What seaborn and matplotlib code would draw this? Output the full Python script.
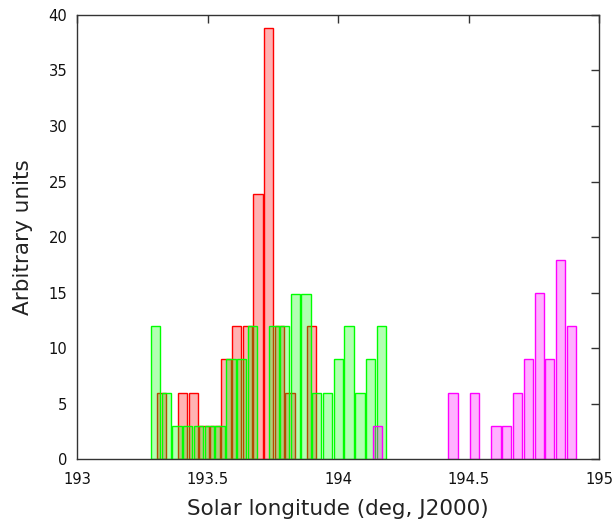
import numpy as np
import pandas as pd
import matplotlib
matplotlib.use("Agg")
import matplotlib.pyplot as plt
import seaborn as sns

# values
red_lon = [193.323, 193.405, 193.446, 193.487, 193.528, 193.570, 193.611,
           193.652, 193.693, 193.734, 193.775, 193.816, 193.898]
red_val = [6, 6, 6, 3, 3, 9, 12, 12, 23.9, 38.8, 12, 6, 12]

green_lon = [193.301, 193.342, 193.383, 193.424, 193.466, 193.507, 193.548,
             193.589, 193.630, 193.671, 193.754, 193.795, 193.836, 193.877,
             193.918, 193.960, 194.001, 194.042, 194.083, 194.124, 194.165]
green_val = [12, 6, 3, 3, 3, 3, 3, 9, 9, 12, 12, 12, 14.9, 14.9,
             6, 6, 9, 12, 6, 9, 12]

magenta_lon = [194.151, 194.440, 194.522, 194.605, 194.645, 194.687,
               194.729, 194.770, 194.810, 194.851, 194.894]
magenta_val = [3, 6, 6, 3, 3, 6, 9, 15, 9, 17.9, 12]

series = [
    (red_lon, red_val, (1, 0, 0)),
    (green_lon, green_val, (0, 1, 0)),
    (magenta_lon, magenta_val, (1, 0, 1)),
]
bar_width = 0.036  # deg

sns.set_style("white")
plt.rcParams['font.family'] = ['DejaVu Sans']

fig = plt.figure(figsize=(6.16, 5.24), dpi=100)
ax = fig.add_axes([0.125, 0.1235, 0.848, 0.848])

for lon, val, col in series:
    df = pd.DataFrame({"lon": lon, "val": val})
    spacing = np.diff(np.sort(df["lon"].values)).min()
    sns.barplot(data=df, x="lon", y="val", native_scale=True,
                width=bar_width / spacing, errorbar=None, ax=ax)
    for p in ax.containers[-1]:
        p.set_facecolor((*col, 0.3))
        p.set_edgecolor(col)
        p.set_linewidth(1.0)

ax.set_xlim(193, 195)
ax.set_ylim(0, 40)
ax.set_xticks([193, 193.5, 194, 194.5, 195])
ax.set_xticklabels(["193", "193.5", "194", "194.5", "195"])
ax.set_yticks(np.arange(0, 41, 5))
ax.tick_params(direction="in", length=6, width=1, color="#333333",
               labelsize=10.6, top=True, right=True, labelcolor="#111111")
ax.tick_params(axis="x", pad=9)
ax.tick_params(axis="y", pad=7)
for s in ax.spines.values():
    s.set_color("#333333")
    s.set_linewidth(1)

ax.set_xlabel("Solar longitude (deg, J2000)", fontsize=15.5,
              color="#222222", labelpad=9)
ax.set_ylabel("Arbitrary units", fontsize=15.5, color="#222222",
              labelpad=11)

fig.savefig("out.png", dpi=100)
